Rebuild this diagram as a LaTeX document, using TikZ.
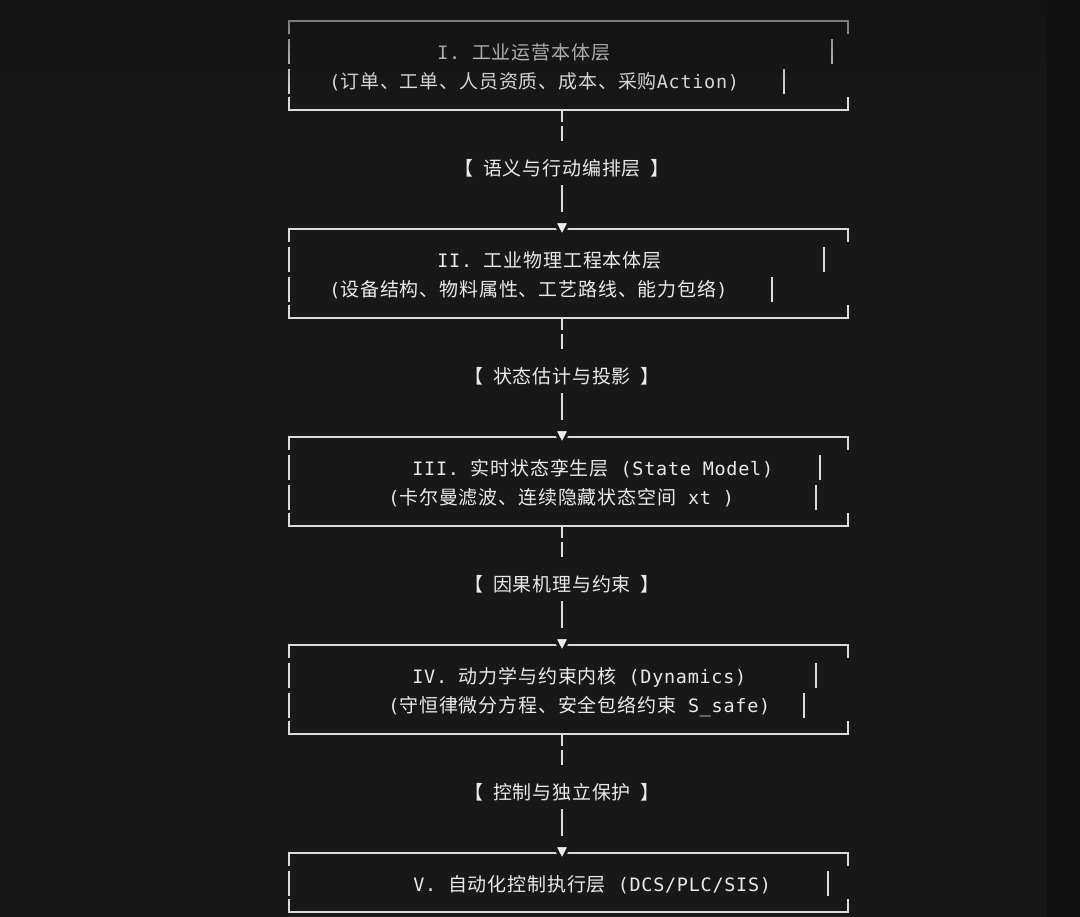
\documentclass[tikz,border=0pt]{standalone}
\usepackage{fontspec}
\usetikzlibrary{fadings}
\newfontfamily\cjk{Noto Sans CJK SC}[LetterSpace=4.5]
\newfontfamily\mono{DejaVu Sans Mono}[LetterSpace=4]
\newcommand{\lat}[1]{{\mono\fontsize{10.5pt}{12pt}\selectfont #1}}
\definecolor{bgcol}{HTML}{181818}
\definecolor{stripcol}{HTML}{111111}
\definecolor{fadecol}{HTML}{101010}
\definecolor{inkcol}{HTML}{EAEAEA}
\definecolor{linecol}{HTML}{DCDCDC}
\tikzfading[name=topfade, top color=transparent!40, middle color=transparent!55, bottom color=transparent!100]

\begin{document}
\begin{tikzpicture}[x=0.02cm, y=-0.02cm,
    box/.style={inner sep=0pt, outer sep=0pt, minimum width=11.18cm, minimum height=1.78cm},
    frame/.style={draw=linecol, line width=0.04cm},
    row/.style={anchor=base west, inner sep=0pt, text=inkcol, font=\cjk\fontsize{10.8pt}{13pt}\selectfont},
    lab/.style={anchor=base, inner sep=0pt, text height=0.664cm, text depth=0.196cm, text=inkcol, font=\cjk\fontsize{10.8pt}{13pt}\selectfont},
    conn/.style={draw=linecol, line width=0.04cm},
    downtri/.style={fill=inkcol, draw=bgcol, line width=0.06cm, line join=round}]
    \fill[bgcol] (0,0) rectangle (1080,917);
    \fill[stripcol] (1047,0) rectangle (1080,917);
    \useasboundingbox (0,0) rectangle (1080,917);

    \node[box] (b1) at (568.5,65.5) {};
    \node[box] (b2) at (568.5,273.5) {};
    \node[box] (b3) at (568.5,481.5) {};
    \node[box] (b4) at (568.5,689.5) {};
    \node[box, minimum height=1.18cm] (b5) at (568.5,882.5) {};

    \foreach \b/\n in {b1/2,b2/2,b3/2,b4/2,b5/1} {
        \draw[frame] (\b.north west) ++(0,13) -- (\b.north west) -- (\b.north east) -- ++(0,13);
        \draw[frame] (\b.south west) ++(0,-13) -- (\b.south west) -- (\b.south east) -- ++(0,-13);
        \foreach \r in {1,...,\n}
            \draw[frame] (\b.north west) ++(0,30*\r-12) -- ++(0,25);
    }
    \foreach \x/\y in {832/39, 784/69, 824/247, 772/277, 820/455, 816/485, 816/663, 804/693, 828/871}
        \draw[frame] (\x,\y) -- ++(0,25);

    \node[row] (r1a) at (437,59) {\lat{I. }工业运营本体层};
    \node[row] (r1b) at (329,88) {\lat{(}订单、工单、人员资质、成本、采购\lat{Action)}};
    \node[row] (r2a) at (437,267) {\lat{II. }工业物理工程本体层};
    \node[row] (r2b) at (329,296) {\lat{(}设备结构、物料属性、工艺路线、能力包络\lat{)}};
    \node[row] (r3a) at (412,475) {\lat{III. }实时状态孪生层\lat{ (State Model)}};
    \node[row] (r3b) at (388,504) {\lat{(}卡尔曼滤波、连续隐藏状态空间\lat{ xt )}};
    \node[row] (r4a) at (412,683) {\lat{IV. }动力学与约束内核\lat{ (Dynamics)}};
    \node[row] (r4b) at (388,712) {\lat{(}守恒律微分方程、安全包络约束\lat{ S\_safe)}};
    \node[row] (r5a) at (413,891) {\lat{V. }自动化控制执行层\lat{ (DCS/PLC/SIS)}};

    \node[lab] (l1) at (562,175) {【\enspace 语义与行动编排层\enspace 】};
    \node[lab] (l2) at (562,383) {【\enspace 状态估计与投影\enspace 】};
    \node[lab] (l3) at (562,591) {【\enspace 因果机理与约束\enspace 】};
    \node[lab] (l4) at (562,799) {【\enspace 控制与独立保护\enspace 】};

    \coordinate (a2) at (b2.north -| l1);
    \coordinate (a3) at (b3.north -| l2);
    \coordinate (a4) at (b4.north -| l3);
    \coordinate (a5) at (b5.north -| l4);

    \foreach \u/\l/\v in {b1/l1/a2, b2/l2/a3, b3/l3/a4, b4/l4/a5} {
        \draw[conn, dash pattern=on 0.24cm off 0.08cm on 2cm off 0.01cm] (\u.south -| \l) -- (\l);
        \draw[conn, shorten >=0.34cm] (\l) -- (\v);
        \filldraw[downtri, shift={(\v)}] (-7.7,-7.5) -- (7.7,-7.5) -- (0,7.4) -- cycle;
    }

    \fill[fadecol, path fading=topfade] (0,0) rectangle (1080,96);
\end{tikzpicture}
\end{document}
